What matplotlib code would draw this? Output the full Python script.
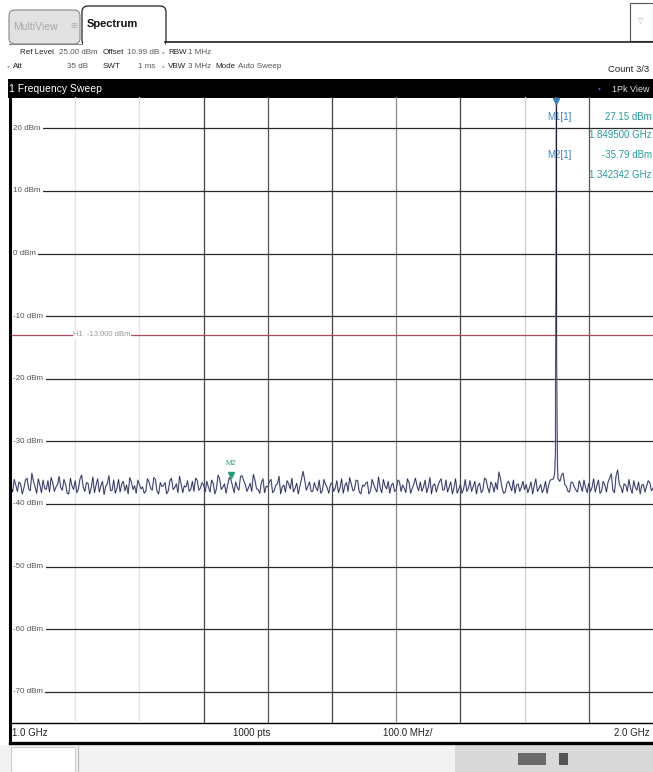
import numpy as np
import matplotlib
matplotlib.use("Agg")
import matplotlib.pyplot as plt
from matplotlib.patches import Rectangle, FancyBboxPatch
from matplotlib.lines import Line2D

plt.rcParams['font.family'] = ['Liberation Sans', 'DejaVu Sans']

# sweep settings
f_start, f_stop = 1.0, 2.0          # GHz
ref_level, y_bottom = 25.0, -75.0   # dBm
level_ticks = [20, 10, 0, -10, -20, -30, -40, -50, -60, -70]
level_labels = ['20 dBm', '10 dBm', '0 dBm', '-10 dBm', '-20 dBm', '-30 dBm',
                '-40 dBm', '-50 dBm', '-60 dBm', '-70 dBm']
h1_level = -13.0

# noise floor, read every 5 MHz from 1.000 to 2.000 GHz
noise_freqs = np.linspace(1.0, 2.0, 201)
noise_levels = [
    -37.2, -36.1, -38.0, -36.8, -37.5, -35.9, -37.9, -36.4, -38.3, -37.0,
    -36.2, -37.7, -38.1, -36.6, -37.3, -35.6, -37.8, -36.9, -38.4, -37.1,
    -36.3, -37.6, -35.4, -38.0, -36.7, -37.4, -38.2, -36.0, -37.1, -38.5,
    -36.8, -37.9, -36.2, -37.5, -38.1, -36.4, -37.0, -35.8, -37.7, -38.3,
    -36.9, -37.3, -38.0, -36.5, -37.8, -36.1, -38.4, -37.2, -36.6, -37.9,
    -35.9, -37.4, -38.2, -36.8, -37.1, -36.3, -37.7, -38.0, -36.2, -37.5,
    -37.0, -36.4, -38.1, -36.7, -37.6, -36.0, -37.3, -38.3, -35.8, -37.1,
    -36.5, -37.8, -35.5, -36.9, -37.4, -38.0, -36.2, -37.7, -36.6, -38.2,
    -37.3, -36.1, -37.9, -36.8, -38.4, -37.0, -36.3, -37.6, -38.1, -36.7,
    -37.2, -34.8, -37.8, -36.5, -38.0, -37.4, -36.2, -37.9, -36.9, -38.3,
    -36.6, -37.5, -38.2, -36.0, -37.1, -38.0, -36.8, -37.7, -36.3, -38.4,
    -37.2, -36.5, -37.9, -36.9, -38.1, -37.4, -36.1, -37.6, -38.3, -36.7,
    -37.8, -36.4, -37.0, -38.2, -36.6, -37.5, -35.9, -37.9, -38.0, -36.2,
    -37.3, -38.4, -36.8, -37.1, -36.0, -37.7, -38.1, -36.5, -37.4, -38.3,
    -36.9, -37.6, -38.0, -36.3, -37.2, -38.4, -36.7, -37.8, -36.1, -38.2,
    -37.0, -36.6, -34.9, -37.5, -38.1, -36.4, -37.9, -38.3, -36.8, -37.3,
    -37.7, -38.2, -36.5, -37.1, -38.0, -36.9, -37.6, -38.3, -36.2, -36.0,
    -35.9, -36.4, -35.1, -37.2, -38.1, -36.6, -37.8, -36.3, -38.0, -37.4,
    -36.7, -37.4, -38.1, -36.2, -37.9, -37.0, -36.5, -35.2, -38.2, -34.6,
    -37.3, -36.8, -38.0, -37.5, -36.3, -37.8, -38.4, -36.9, -37.2, -36.6,
    -37.5,
]

# in-between sweep points, 1.0025 to 1.9975 GHz
mid_freqs = np.linspace(1.0025, 1.9975, 200)
mid_levels = [
    -38.1, -37.0, -36.5, -38.4, -36.2, -37.6, -35.1, -37.3, -36.0, -38.2,
    -37.5, -36.3, -35.8, -38.0, -36.9, -37.4, -36.1, -38.3, -35.9, -37.7,
    -38.2, -36.0, -37.3, -36.6, -38.4, -35.7, -37.0, -38.1, -36.4, -37.2,
    -35.5, -37.8, -38.3, -36.1, -36.8, -37.9, -38.4, -36.5, -37.1, -36.2,
    -37.6, -38.3, -36.0, -37.5, -35.8, -38.0, -36.6, -37.1, -38.4, -36.3,
    -37.7, -36.8, -35.6, -38.2, -37.3, -38.0, -36.4, -35.9, -37.8, -36.6,
    -38.1, -37.3, -36.2, -38.4, -35.4, -37.7, -36.8, -37.0, -36.1, -38.2,
    -37.4, -35.6, -36.3, -38.0, -36.7, -35.3, -37.6, -38.3, -36.0, -37.2,
    -36.4, -38.2, -37.0, -35.6, -37.3, -38.1, -36.8, -35.9, -37.5, -38.4,
    -36.0, -36.2, -37.2, -38.0, -36.6, -37.9, -38.3, -36.1, -37.4, -36.9,
    -38.0, -36.3, -37.4, -38.3, -36.6, -35.8, -37.9, -36.2, -38.1, -37.0,
    -36.7, -38.4, -36.1, -37.6, -35.7, -38.2, -37.1, -36.4, -37.0, -38.0,
    -36.2, -38.0, -37.5, -36.0, -38.3, -36.8, -37.2, -36.5, -37.3, -38.2,
    -35.8, -37.0, -38.1, -36.4, -37.8, -36.2, -37.3, -38.4, -36.0, -37.6,
    -38.3, -36.1, -37.5, -38.0, -36.4, -37.1, -38.2, -35.9, -37.4, -36.5,
    -38.1, -37.7, -36.0, -38.3, -36.7, -37.2, -36.2, -37.0, -38.0, -36.4,
    -36.9, -37.4, -38.4, -36.0, -37.5, -38.2, -36.4, -37.0, -36.1, -35.8,
    -36.6, -35.4, -36.9, -38.0, -36.5, -37.3, -38.1, -37.1, -36.2, -38.2,
    -38.0, -36.0, -37.1, -38.3, -36.4, -38.1, -35.9, -37.8, -35.5, -36.9,
    -38.2, -37.0, -36.1, -38.3, -37.4, -36.5, -37.0, -38.1, -36.3, -37.9,
]

# carrier at 1.8495 GHz
peak_freqs = [1.8470, 1.8480, 1.8490, 1.8495, 1.8500, 1.8510, 1.8520]
peak_levels = [-35.0, -31.5, -1.0, 27.15, -17.0, -33.0, -36.0]

# markers
m1_freq, m1_level = 1.8495, 27.15
m2_freq, m2_level = 1.342342, -35.79

all_f = np.concatenate([noise_freqs, mid_freqs])
all_l = np.concatenate([noise_levels, mid_levels])
keep = (all_f < 1.8465) | (all_f > 1.8525)
trace_f = np.concatenate([all_f[keep], peak_freqs])
trace_l = np.concatenate([all_l[keep], peak_levels])
order = np.argsort(trace_f)
trace_f, trace_l = trace_f[order], trace_l[order]

W, H = 653, 772
fig = plt.figure(figsize=(W / 100, H / 100), dpi=100)

# ---- screen / UI layer in pixel coords ----
ui = fig.add_axes([0, 0, 1, 1])
ui.set_xlim(0, W)
ui.set_ylim(H, 0)
ui.axis('off')

# tabs
ui.add_patch(FancyBboxPatch((9, 10), 71, 34, boxstyle='round,pad=0,rounding_size=6',
                            fc='#e2e2e2', ec='#888888', lw=0.8))
ui.text(13, 27, 'MultiView', fontsize=7.5, color='#a8a8a8', va='center')
ui.text(70, 27, '\u229e', fontsize=6, color='#b0b0b0', va='center')
ui.add_patch(FancyBboxPatch((82, 6), 84, 40, boxstyle='round,pad=0,rounding_size=6',
                            fc='white', ec='#222222', lw=0.9))
ui.add_patch(Rectangle((83, 40), 82, 8, fc='white', ec='none'))
ui.text(87, 24, 'Spectrum', fontsize=8, fontweight='bold', color='#111111', va='center')
ui.plot([165, 653], [42, 42], color='#222222', lw=1.2)
ui.plot([9, 82], [44, 44], color='#888888', lw=0.8)
ui.add_patch(Rectangle((630, 3), 23, 38, fc='white', ec='#555555', lw=0.8))
ui.text(641, 22, '\u25bd', fontsize=5, color='#aaaaaa', ha='center', va='center')

# setting lines
fs = 5.8
dark = dict(fontsize=fs, color='#222222', va='center')
grey = dict(fontsize=fs, color='#555555', va='center')
dot = dict(fontsize=3.5, color='#aaaaaa', va='center')
ui.text(20, 53, 'Ref Level', **dark)
ui.text(59, 53, '25.00 dBm', **grey)
ui.text(103, 53, 'Offset', **dark)
ui.text(127, 53, '10.99 dB', **grey)
ui.text(162, 53, '\u25cf', **dot)
ui.text(168, 53, 'RBW', **dark)
ui.text(188, 53, '1 MHz', **grey)
ui.text(7, 67, '\u25cf', **dot)
ui.text(13, 67, 'Att', **dark)
ui.text(88, 67, '35 dB', ha='right', **grey)
ui.text(103, 67, 'SWT', **dark)
ui.text(155, 67, '1 ms', ha='right', **grey)
ui.text(162, 67, '\u25cf', **dot)
ui.text(168, 67, 'VBW', **dark)
ui.text(188, 67, '3 MHz', **grey)
ui.text(215, 67, 'Mode', **dark)
ui.text(238, 67, 'Auto Sweep', **grey)
ui.text(649, 69, 'Count 3/3', fontsize=6.8, color='#222222', va='center', ha='right')

# window title bar
ui.add_patch(Rectangle((8, 79), W - 8, 19, fc='black', ec='none'))
ui.text(9, 89, '1 Frequency Sweep', fontsize=7.5, color='white', va='center')
ui.text(649, 89, '1Pk View', fontsize=6.5, color='#dddddd', va='center', ha='right')
ui.text(599, 89, '\u25cf', fontsize=3.5, color='#4060d0', va='center', ha='center')

# frequency strip
ui.plot([10, 653], [723, 723], color='black', lw=1.0)
ui.plot([10, 653], [743, 743], color='black', lw=2.4)
strip = dict(fontsize=7, color='#222222', va='center')
ui.text(12, 733, '1.0 GHz', **strip)
ui.text(252, 733, '1000 pts', ha='center', **strip)
ui.text(408, 733, '100.0 MHz/', ha='center', **strip)
ui.text(650, 733, '2.0 GHz', ha='right', **strip)

# bottom status area
ui.add_patch(Rectangle((0, 745), W, 27, fc='#f2f2f2', ec='none'))
ui.add_patch(Rectangle((11, 747), 64, 25, fc='white', ec='#cccccc', lw=0.8))
ui.plot([78, 78], [746, 772], color='#bbbbbb', lw=0.8)
ui.add_patch(Rectangle((455, 745), 198, 27, fc='#d9d9d9', ec='none'))
ui.add_patch(Rectangle((518, 753), 28, 12, fc='#6a6a6a', ec='none'))
ui.add_patch(Rectangle((559, 753), 9, 12, fc='#555555', ec='none'))

# ---- measurement diagram ----
ax = fig.add_axes([11 / W, 1 - 723 / H, 642 / W, 626 / H])
ax.set_xlim(f_start, f_stop)
ax.set_ylim(y_bottom, ref_level)
ax.axis('off')

v_colors = {1.1: '#e4e4e4', 1.2: '#e4e4e4', 1.3: '#444444', 1.4: '#555555',
            1.5: '#444444', 1.6: '#8a8a8a', 1.7: '#444444', 1.8: '#cfcfcf',
            1.9: '#555555'}
for f, c in v_colors.items():
    ax.axvline(f, color=c, lw=0.9, zorder=1)

for lv, lab in zip(level_ticks, level_labels):
    ax.axhline(lv, color='#2a2a2a', lw=0.9, zorder=1)
    ax.text(1.0035, lv, lab, fontsize=5.8, color='#555555', va='center',
            bbox=dict(fc='white', ec='none', pad=1.6), zorder=3)

ax.axhline(h1_level, color='#b04a5c', lw=0.9, zorder=2)
ax.text(1.097, h1_level, 'H1  -13.000 dBm', fontsize=5.5, color='#999999', va='center',
        bbox=dict(fc='white', ec='none', pad=0.3), zorder=3)

ax.plot(trace_f, trace_l, color='#9aa0e0', lw=1.2, alpha=0.6, zorder=4)
ax.plot(trace_f, trace_l, color='#1c1c30', lw=0.5, zorder=5)

# marker M1 (peak above ref level)
ax.plot([m1_freq], [ref_level - 0.6], marker='v', ms=4, color='#3a80c0', zorder=6,
        clip_on=False)
# marker M2
ax.plot([m2_freq], [m2_level + 0.4], marker='v', ms=4, color='#2a9a78', zorder=6)
ax.text(m2_freq, m2_level + 2.2, 'M2', fontsize=5.5, color='#2a9a78', ha='center',
        va='center', zorder=6)

# marker table
tbl = dict(transform=ax.transAxes, fontsize=7, va='center')
ax.text(0.835, 0.968, 'M1[1]', color='#3a80c0', **tbl)
ax.text(0.998, 0.968, '27.15 dBm', color='#2a9aa0', ha='right', **tbl)
ax.text(0.998, 0.939, '1.849500 GHz', color='#2a9aa0', ha='right', **tbl)
ax.text(0.835, 0.907, 'M2[1]', color='#3a80c0',
        bbox=dict(fc='white', ec='none', pad=0.2), **tbl)
ax.text(0.998, 0.907, '-35.79 dBm', color='#2a9aa0', ha='right', **tbl)
ax.text(0.998, 0.876, '1.342342 GHz', color='#2a9aa0', ha='right', **tbl)

# left frame of the diagram, drawn above everything
fig.add_artist(Line2D([10 / W, 10 / W], [1 - 743 / H, 1 - 97 / H], color='black',
                      lw=2.2, zorder=10))

fig.savefig('out.png', dpi=100)
